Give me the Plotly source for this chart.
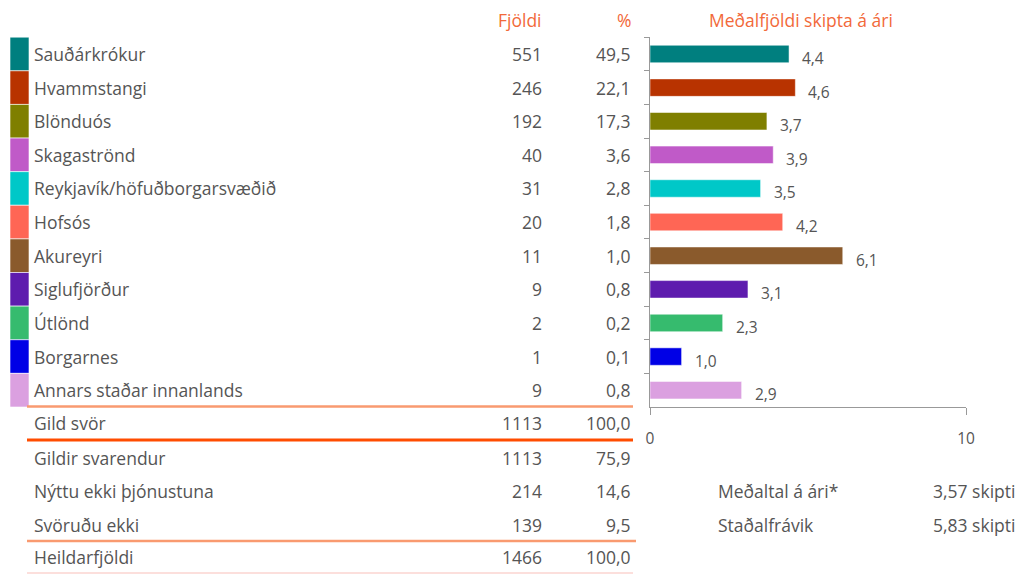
import plotly.graph_objects as go

W, H = 1019, 574

places = ["Sauðárkrókur", "Hvammstangi", "Blönduós", "Skagaströnd",
          "Reykjavík/höfuðborgarsvæðið", "Hofsós", "Akureyri", "Siglufjörður",
          "Útlönd", "Borgarnes", "Annars staðar innanlands"]
counts = [551, 246, 192, 40, 31, 20, 11, 9, 2, 1, 9]
pcts = [49.5, 22.1, 17.3, 3.6, 2.8, 1.8, 1.0, 0.8, 0.2, 0.1, 0.8]
means = [4.4, 4.6, 3.7, 3.9, 3.5, 4.2, 6.1, 3.1, 2.3, 1.0, 2.9]
colors = ["#007f7f", "#b83300", "#7f7f00", "#c05ac8", "#00c8c8", "#ff6655",
          "#8a5a2c", "#5e1cae", "#36bb6e", "#0000e6", "#dba0e0"]

summary_labels = ["Gild svör", "Gildir svarendur", "Nýttu ekki þjónustuna",
                  "Svöruðu ekki", "Heildarfjöldi"]
summary_counts = [1113, 1113, 214, 139, 1466]
summary_pcts = [100.0, 75.9, 14.6, 9.5, 100.0]

stats_labels = ["Meðaltal á ári*", "Staðalfrávik"]
stats_values = [3.57, 5.83]

col_headers = ["Fjöldi", "%"]
chart_title = "Meðalfjöldi skipta á ári"

GRAY = "#555555"
ORANGE = "#f2693a"
FONT = "Open Sans"
FS = 17.5


def px(x):
    return x / W


def py(y):
    return 1 - y / H


def comma(v, d=1):
    return f"{v:.{d}f}".replace(".", ",")


def txt(x, y, text, anchor, xref="paper", yref="paper", size=FS, color=GRAY, **kw):
    d = dict(x=x, y=y, xref=xref, yref=yref, text=text, showarrow=False,
             xanchor=anchor, yanchor="middle",
             font=dict(size=size, color=color, family=FONT))
    d.update(kw)
    return d


fig = go.Figure()

# colour boxes (legend swatches)
fig.add_trace(go.Bar(
    x=[1] * len(places), y=places, orientation="h", width=1,
    marker=dict(color=colors, line=dict(color="rgba(255,255,255,0.6)", width=1)),
    xaxis="x2", yaxis="y", hoverinfo="skip", showlegend=False,
))

# main bars
fig.add_trace(go.Bar(
    x=means, y=places, orientation="h", width=0.52,
    marker=dict(color=colors, line=dict(color="rgba(255,255,255,0.5)", width=1)),
    xaxis="x", yaxis="y", showlegend=False,
))

annotations = []
# bar value labels
for p, m in zip(places, means):
    annotations.append(txt(m, p, comma(m), "left", xref="x", yref="y", size=15.5,
                           xshift=11, yshift=-4))
# table rows
for p, c, pc in zip(places, counts, pcts):
    annotations.append(txt(px(32), p, p, "left", yref="y"))
    annotations.append(txt(px(544), p, str(c), "right", yref="y"))
    annotations.append(txt(px(633), p, comma(pc), "right", yref="y"))

# headers
annotations.append(txt(px(544), py(20), col_headers[0], "right", color=ORANGE))
annotations.append(txt(px(633), py(20), col_headers[1], "right", color=ORANGE))
annotations.append(txt(px(801), py(20), chart_title, "center", color=ORANGE))

# summary rows
summary_y = [423, 458, 491, 525, 557]
for lab, c, pc, yy in zip(summary_labels, summary_counts, summary_pcts, summary_y):
    annotations.append(txt(px(32), py(yy), lab, "left"))
    annotations.append(txt(px(544), py(yy), str(c), "right"))
    annotations.append(txt(px(633), py(yy), comma(pc), "right"))

# stats
for lab, v, yy in zip(stats_labels, stats_values, [491, 525]):
    annotations.append(txt(px(716), py(yy), lab, "left"))
    annotations.append(txt(px(1017), py(yy), comma(v, 2) + " skipti", "right"))

shapes = [
    dict(type="line", xref="paper", yref="paper", x0=px(27), x1=px(633),
         y0=py(406.5), y1=py(406.5), line=dict(color="#f99a70", width=2.5)),
    dict(type="line", xref="paper", yref="paper", x0=px(27), x1=px(633),
         y0=py(440), y1=py(440), line=dict(color="#ff4d00", width=3)),
    dict(type="line", xref="paper", yref="paper", x0=px(27), x1=px(636),
         y0=py(541), y1=py(541), line=dict(color="#f99a70", width=2.5)),
    dict(type="line", xref="paper", yref="paper", x0=px(27), x1=px(633),
         y0=py(573), y1=py(573), line=dict(color="#fbd5d0", width=1.5)),
]

fig.update_layout(
    template="none",
    width=W, height=H,
    margin=dict(l=0, r=0, t=0, b=0, pad=0, autoexpand=False),
    paper_bgcolor="white", plot_bgcolor="white",
    separators=", ",
    font=dict(family=FONT, color=GRAY),
    bargap=0,
    barmode="overlay",
    xaxis=dict(domain=[px(650), px(966)], range=[0, 10], tickvals=[0, 10],
               ticktext=["0", "10"], showgrid=False, zeroline=False,
               showline=True, linecolor="#999999", linewidth=1,
               ticks="outside", ticklen=7, tickcolor="#999999",
               ticklabelstandoff=10, automargin=False,
               tickfont=dict(size=15.5, color=GRAY, family=FONT), anchor="y"),
    xaxis2=dict(domain=[px(10), px(29)], range=[0, 1], visible=False,
                anchor="y", fixedrange=True, automargin=False),
    yaxis=dict(domain=[py(407), py(37)], autorange="reversed",
               type="category", categoryorder="array", categoryarray=places,
               showgrid=False, zeroline=False, showticklabels=False,
               showline=True, linecolor="#999999", linewidth=1,
               ticks="outside", ticklen=5, tickcolor="#999999",
               tickson="boundaries", anchor="x", automargin=False),
    annotations=annotations,
    shapes=shapes,
    hovermode=False,
    showlegend=False,
)

fig.write_html(
    "out.html",
    config={"displayModeBar": False, "staticPlot": True},
    post_script="document.body.style.margin='0px';document.body.style.overflow='hidden';",
)
